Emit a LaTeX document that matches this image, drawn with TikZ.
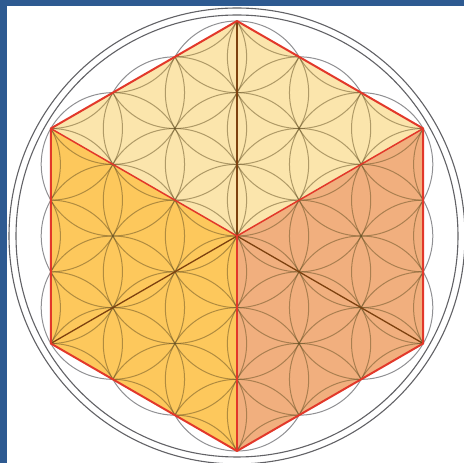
\documentclass[tikz,border=0pt]{standalone}
\usepackage{tikz}
\definecolor{frameblue}{RGB}{46,90,145}
\definecolor{topfill}{RGB}{251,229,172}
\definecolor{leftfill}{RGB}{253,200,92}
\definecolor{rightfill}{RGB}{241,175,126}
\definecolor{hexred}{RGB}{226,56,42}
\definecolor{diagbrown}{RGB}{125,65,15}
\definecolor{ringgray}{RGB}{70,70,75}
\definecolor{petalolive}{RGB}{100,80,35}

\begin{document}
\begin{tikzpicture}[x=1pt,y=1pt]
	\tikzset{petal/.style={petalolive,line width=1pt,opacity=0.5}}
	\tikzset{scallop/.style={ringgray,line width=1pt,opacity=0.6}}
	\tikzset{ring/.style={ringgray,line width=1.1pt,opacity=0.85}}
	\useasboundingbox (0,0) rectangle (464,463);
	\fill[frameblue] (0,0) rectangle (7,463);
	\fill[frameblue] (0,457) rectangle (464,463);

	\pgfmathsetmacro{\Rhex}{215}
	\pgfmathsetmacro{\rad}{\Rhex/3}
	\coordinate (O) at (237,227);
	\coordinate (T) at ([shift={(90:\Rhex)}]O);
	\coordinate (UR) at ([shift={(30:\Rhex)}]O);
	\coordinate (LR) at ([shift={(-30:\Rhex)}]O);
	\coordinate (B) at ([shift={(-90:\Rhex)}]O);
	\coordinate (LL) at ([shift={(210:\Rhex)}]O);
	\coordinate (UL) at ([shift={(150:\Rhex)}]O);

	\fill[topfill] (O)--(UL)--(T)--(UR)--cycle;
	\fill[leftfill] (O)--(UL)--(LL)--(B)--cycle;
	\fill[rightfill] (O)--(UR)--(LR)--(B)--cycle;

	% lattice of circles inside the hexagon
	\begin{scope}
		\clip (T)--(UR)--(LR)--(B)--(LL)--(UL)--cycle;
		\foreach \a in {-4,...,4}
			\foreach \b in {-4,...,4}
				\draw[petal] ([shift={(\a*\rad*0.866025,\a*\rad*0.5+\b*\rad)}]O) circle (\rad);
	\end{scope}

	% scallops outside the hexagon
	\begin{scope}
		\clip (0,0)--(464,0)--(464,463)--(0,463)--cycle (T)--(UR)--(LR)--(B)--(LL)--(UL)--cycle;
		\foreach \a/\b in {2/0,0/2,-2/2,-2/0,0/-2,2/-2,1/1,-1/2,-2/1,-1/-1,1/-2,2/-1}
			\draw[scallop] ([shift={(\a*\rad*0.866025,\a*\rad*0.5+\b*\rad)}]O) circle (\rad);
	\end{scope}

	\draw[diagbrown,line width=1.3pt] (O)--(T);
	\draw[diagbrown,line width=1.3pt] (O)--(LL);
	\draw[diagbrown,line width=1.3pt] (O)--(LR);
	\draw[hexred,line width=1.5pt] (UL)--(O)--(UR);
	\draw[hexred,line width=1.5pt] (O)--(B);
	\draw[hexred,line width=2pt,line join=round] (T)--(UR)--(LR)--(B)--(LL)--(UL)--cycle;

	\draw[ring] (O) circle (221);
	\draw[ring] (O) circle (228);
\end{tikzpicture}
\end{document}
